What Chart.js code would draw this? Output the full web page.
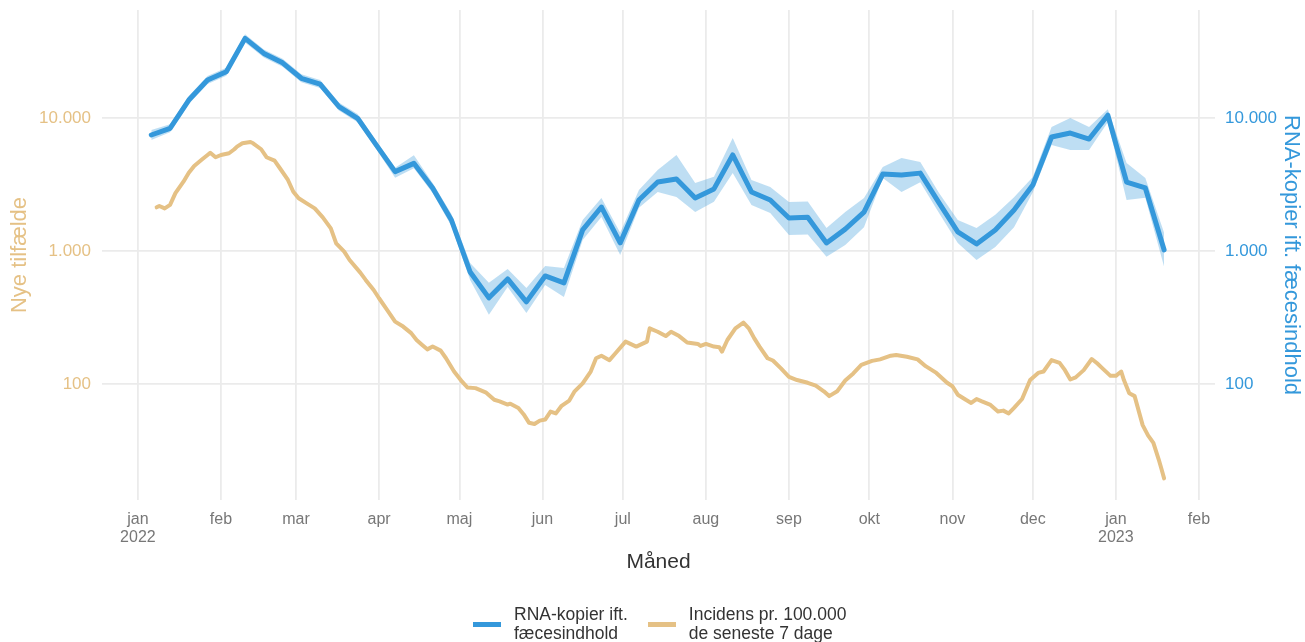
<!DOCTYPE html>
<html lang="da">
<head>
<meta charset="utf-8">
<title>Spildevand og nye tilfælde</title>
<script src="https://cdn.jsdelivr.net/npm/chart.js@4/dist/chart.umd.min.js"></script>
<style>
  body { margin: 0; background: #fff; font-family: "Liberation Sans", Arial, sans-serif; }
  #wrap { position: relative; width: 1305px; height: 642px; overflow: hidden; }
  #legend { position: absolute; top: 605px; left: 473px; display: flex; color: #333; font-size: 17.5px; line-height: 19px; }
  .item { display: flex; align-items: center; margin-right: 20px; }
  .swatch { width: 28px; height: 5px; margin-right: 13px; }
</style>
</head>
<body>
<div id="wrap">
  <canvas id="chart" width="1305" height="642"></canvas>
  <div id="legend"></div>
</div>
<script>
// weekly wastewater samples (RNA copies relative to faecal content)
const rnaDates = [
  '2022-01-06', '2022-01-13', '2022-01-20', '2022-01-27', '2022-02-03', '2022-02-10', '2022-02-17', '2022-02-24',
  '2022-03-03', '2022-03-10', '2022-03-17', '2022-03-24', '2022-03-31', '2022-04-07', '2022-04-14', '2022-04-21',
  '2022-04-28', '2022-05-05', '2022-05-12', '2022-05-19', '2022-05-26', '2022-06-02', '2022-06-09', '2022-06-16',
  '2022-06-23', '2022-06-30', '2022-07-07', '2022-07-14', '2022-07-21', '2022-07-28', '2022-08-04', '2022-08-11',
  '2022-08-18', '2022-08-25', '2022-09-01', '2022-09-08', '2022-09-15', '2022-09-22', '2022-09-29', '2022-10-06',
  '2022-10-13', '2022-10-20', '2022-10-27', '2022-11-03', '2022-11-10', '2022-11-17', '2022-11-24', '2022-12-01',
  '2022-12-08', '2022-12-15', '2022-12-22', '2022-12-29', '2023-01-05', '2023-01-12', '2023-01-19'
];
const rnaValues = [
  7450, 8370, 13650, 19300, 22300, 39700, 30600, 26000, 19900, 18000, 12200, 9950, 6250, 3950, 4560, 2980,
  1710, 695, 444, 616, 414, 649, 575, 1440, 2140, 1150, 2420, 3300, 3480, 2500, 2930, 5270,
  2780, 2420, 1770, 1790, 1150, 1460, 1960, 3790, 3730, 3850, 2300, 1390, 1130, 1440, 2030, 3130,
  7200, 7710, 6950, 10500, 3300, 2980, 1020
];
const rnaUpper = [
  8120, 8970, 14630, 20690, 23900, 42600, 32800, 27900, 21300, 19300, 13100, 10700, 6700, 4230, 5240, 3250,
  1900, 812, 576, 732, 527, 772, 746, 1710, 2500, 1370, 2880, 4060, 5270, 3240, 3610, 7070,
  3420, 3030, 2330, 2360, 1490, 1960, 2500, 4280, 5010, 4660, 2730, 1710, 1490, 1870, 2540, 3600,
  8560, 10000, 8560, 11650, 4590, 3540, 1370
];
const rnaLower = [
  6830, 7810, 12730, 18000, 20800, 37000, 28500, 24300, 18600, 16800, 11400, 9280, 5830, 3560, 4180, 2730,
  1540, 605, 331, 536, 342, 555, 451, 1210, 1800, 934, 2110, 2780, 2550, 1960, 2340, 3860,
  2220, 1930, 1320, 1330, 903, 1110, 1510, 3540, 2780, 3290, 1930, 1150, 857, 1070, 1510, 2770,
  6270, 5750, 5740, 9300, 2420, 2510, 760
];

// 7-day incidence per 100.000, day number counted from 1 Jan 2022
const incidDays = [
  7, 8, 10, 12, 14, 17, 19, 21, 24, 26, 27, 29, 31, 34, 36, 37, 39, 42, 43, 46,
  48, 51, 53, 56, 58, 60, 63, 66, 69, 72, 74, 77, 79, 83, 85, 88, 90, 93, 96, 99,
  102, 104, 106, 108, 110, 113, 115, 118, 121, 123, 126, 130, 133, 135, 138, 139, 142, 144, 146, 148,
  150, 152, 154, 156, 158, 161, 163, 166, 169, 171, 173, 176, 178, 182, 186, 190, 191, 194, 197, 199,
  202, 205, 209, 210, 212, 215, 217, 218, 220, 223, 226, 228, 230, 232, 235, 237, 240, 243, 246, 250,
  253, 256, 258, 261, 264, 267, 270, 274, 277, 281, 283, 287, 291, 294, 298, 302, 304, 306, 309, 311,
  313, 315, 318, 321, 323, 325, 327, 330, 333, 336, 338, 341, 344, 346, 348, 350, 353, 356, 358, 360,
  363, 365, 367, 368, 370, 372, 375, 377, 379, 381, 382, 383
];
const incidValues = [
  2130, 2180, 2090, 2220, 2720, 3320, 3880, 4360, 4890, 5270, 5480, 5070, 5270, 5430, 5820, 6090, 6450, 6600, 6450, 5820,
  5070, 4780, 4190, 3420, 2790, 2490, 2280, 2090, 1790, 1480, 1140, 988, 855, 687, 606, 509, 441, 360, 294, 270,
  241, 214, 197, 182, 191, 178, 156, 124, 104, 94, 93, 86, 76, 74, 70, 71, 66, 59, 51, 50,
  53, 54, 62, 60, 68, 75, 88, 101, 124, 156, 163, 151, 168, 208, 191, 208, 262, 247, 229, 247,
  229, 205, 200, 193, 200, 191, 189, 175, 214, 262, 289, 262, 221, 191, 156, 150, 131, 113, 107, 102,
  97, 88, 81, 88, 106, 120, 139, 149, 153, 163, 165, 160, 153, 136, 121, 102, 96, 83, 76, 72,
  77, 74, 70, 62, 63, 60, 66, 77, 107, 121, 124, 151, 144, 127, 108, 112, 127, 154, 143, 131,
  115, 115, 124, 107, 85, 81, 49, 41, 36, 27, 23, 19.5
];

// month ticks on the time axis
const monthDates = [
  '2022-01-01', '2022-02-01', '2022-03-01', '2022-04-01', '2022-05-01', '2022-06-01', '2022-07-01',
  '2022-08-01', '2022-09-01', '2022-10-01', '2022-11-01', '2022-12-01', '2023-01-01', '2023-02-01'
];
const monthLabels = [
  ['jan', '2022'], 'feb', 'mar', 'apr', 'maj', 'jun', 'jul', 'aug', 'sep', 'okt', 'nov', 'dec', ['jan', '2023'], 'feb'
];
const yTicks = [100, 1000, 10000];

const legendItems = [
  { text: ['RNA-kopier ift.', 'fæcesindhold'], color: '#3498db' },
  { text: ['Incidens pr. 100.000', 'de seneste 7 dage'], color: '#e5c185' }
];

const blue = '#3498db';
const orange = '#e5c185';
const band = 'rgba(52, 152, 219, 0.32)';
const gridColor = '#ebebeb';

function dayOf(str) {
  const [y, m, d] = str.split('-').map(Number);
  return (Date.UTC(y, m - 1, d) - Date.UTC(2022, 0, 1)) / 86400000;
}

function fmtDk(v) {
  return String(v).replace(/\B(?=(\d{3})+(?!\d))/g, '.');
}

// fixed axis width, and no extra room reserved for half tick labels
function fixWidth(w) {
  return s => {
    s.width = w;
    s.paddingTop = 0;
    s.paddingBottom = 0;
  };
}

const rnaDays = rnaDates.map(dayOf);
const monthDays = monthDates.map(dayOf);

const rnaPoints = rnaDays.map((d, i) => ({ x: d, y: rnaValues[i] }));
const upperPoints = rnaDays.map((d, i) => ({ x: d, y: rnaUpper[i] }));
const lowerPoints = rnaDays.map((d, i) => ({ x: d, y: rnaLower[i] }));
const incidPoints = incidDays.map((d, i) => ({ x: d, y: incidValues[i] }));

Chart.defaults.font.family = '"Liberation Sans", Arial, sans-serif';

const logRange = { min: 13.4, max: 64900 };

const ctx = document.getElementById('chart').getContext('2d');
new Chart(ctx, {
  type: 'line',
  data: {
    datasets: [
      { label: 'RNA-kopier ift. fæcesindhold', data: rnaPoints, yAxisID: 'y2',
        borderColor: blue, borderWidth: 5, order: 0 },
      { label: 'Incidens pr. 100.000 de seneste 7 dage', data: incidPoints, yAxisID: 'y',
        borderColor: orange, borderWidth: 4, order: 1 },
      { label: 'upper', data: upperPoints, yAxisID: 'y2', fill: '+1',
        backgroundColor: band, borderWidth: 0, order: 2 },
      { label: 'lower', data: lowerPoints, yAxisID: 'y2', fill: false,
        borderWidth: 0, order: 3 }
    ]
  },
  options: {
    responsive: false,
    animation: false,
    layout: { padding: { top: 10, left: 0, right: 0, bottom: 0 } },
    elements: {
      point: { radius: 0, hoverRadius: 0 },
      line: { tension: 0, borderJoinStyle: 'round', borderCapStyle: 'round' }
    },
    plugins: { legend: { display: false }, tooltip: { enabled: false } },
    scales: {
      x: {
        type: 'linear',
        position: 'bottom',
        min: -13.4,
        max: 402,
        afterBuildTicks: s => { s.ticks = monthDays.map(v => ({ value: v })); },
        afterFit: s => { s.height = 142; },
        grid: { color: gridColor, lineWidth: 1.8, drawTicks: false },
        border: { display: false },
        ticks: {
          autoSkip: false, maxRotation: 0, padding: 11, color: '#777',
          font: { size: 16, lineHeight: 1.1 },
          callback: (v, i) => monthLabels[i]
        },
        title: { display: true, text: 'Måned', color: '#333', font: { size: 21 },
          padding: { top: 0, bottom: 67 } }
      },
      y: {
        type: 'logarithmic',
        position: 'left',
        ...logRange,
        afterBuildTicks: s => { s.ticks = yTicks.map(v => ({ value: v })); },
        afterFit: fixWidth(102),
        grid: { color: gridColor, lineWidth: 1.8, drawTicks: false },
        border: { display: false },
        ticks: { color: orange, padding: 11, font: { size: 17 }, callback: v => fmtDk(v) },
        title: { display: true, text: 'Nye tilfælde', color: orange, font: { size: 22 },
          padding: { top: 7, bottom: 0 } }
      },
      y2: {
        type: 'logarithmic',
        position: 'right',
        ...logRange,
        afterBuildTicks: s => { s.ticks = yTicks.map(v => ({ value: v })); },
        afterFit: fixWidth(90),
        grid: { drawOnChartArea: false, drawTicks: false },
        border: { display: false },
        ticks: { color: blue, padding: 10, font: { size: 17 }, callback: v => fmtDk(v) },
        title: { display: true, text: 'RNA-kopier ift. fæcesindhold', color: blue, font: { size: 22 },
          padding: { top: 1, bottom: 0 } }
      }
    }
  }
});

// legend below the chart, two-line labels
const legend = document.getElementById('legend');
legendItems.forEach(item => {
  const el = document.createElement('div');
  el.className = 'item';
  const sw = document.createElement('div');
  sw.className = 'swatch';
  sw.style.background = item.color;
  const txt = document.createElement('div');
  txt.innerHTML = item.text.join('<br>');
  el.appendChild(sw);
  el.appendChild(txt);
  legend.appendChild(el);
});
</script>
</body>
</html>
